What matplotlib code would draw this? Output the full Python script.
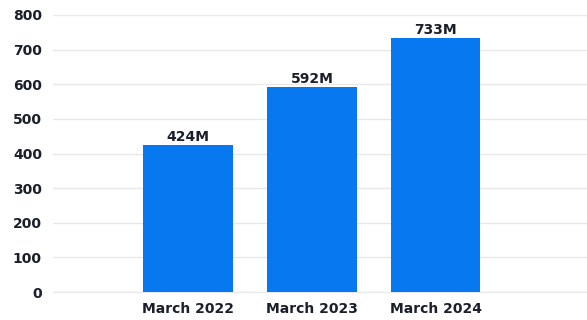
import matplotlib.pyplot as plt

categories = ["March 2022", "March 2023", "March 2024"]
values = [424, 592, 733]
labels = ["424M", "592M", "733M"]

BAR_COLOR = "#0878f0"
TEXT_COLOR = "#1b1f2b"
GRID_COLOR = "#e8e8e8"

plt.rcParams['font.family'] = ['DejaVu Sans']

fig = plt.figure(figsize=(5.87, 3.2), dpi=100)
ax = fig.add_axes([53 / 587, 1 - 292 / 320, 1 - 53 / 587, (292 - 15) / 320])

x = list(range(len(categories)))
bars = ax.bar(x, values, width=0.72, color=BAR_COLOR, zorder=3)

for bar, lab in zip(bars, labels):
    ax.annotate(lab, (bar.get_x() + bar.get_width() / 2, bar.get_height()),
                xytext=(0, 1), textcoords="offset points",
                ha="center", va="bottom", fontsize=10, fontweight="bold",
                color=TEXT_COLOR)

ax.set_ylim(0, 800)
ax.set_xlim(-1.09, 3.22)
ax.set_yticks(range(0, 801, 100))
ax.set_xticks(x)
ax.set_xticklabels(categories)

ax.grid(axis="y", color=GRID_COLOR, linewidth=1, zorder=0)
for side in ["top", "right", "left"]:
    ax.spines[side].set_visible(False)
ax.spines["bottom"].set_color(GRID_COLOR)
ax.tick_params(axis="both", length=0, labelsize=10, colors=TEXT_COLOR)
ax.tick_params(axis="y", pad=8)
ax.tick_params(axis="x", pad=7)
for t in ax.get_xticklabels() + ax.get_yticklabels():
    t.set_fontweight("bold")

fig.savefig("out.png", dpi=100)
